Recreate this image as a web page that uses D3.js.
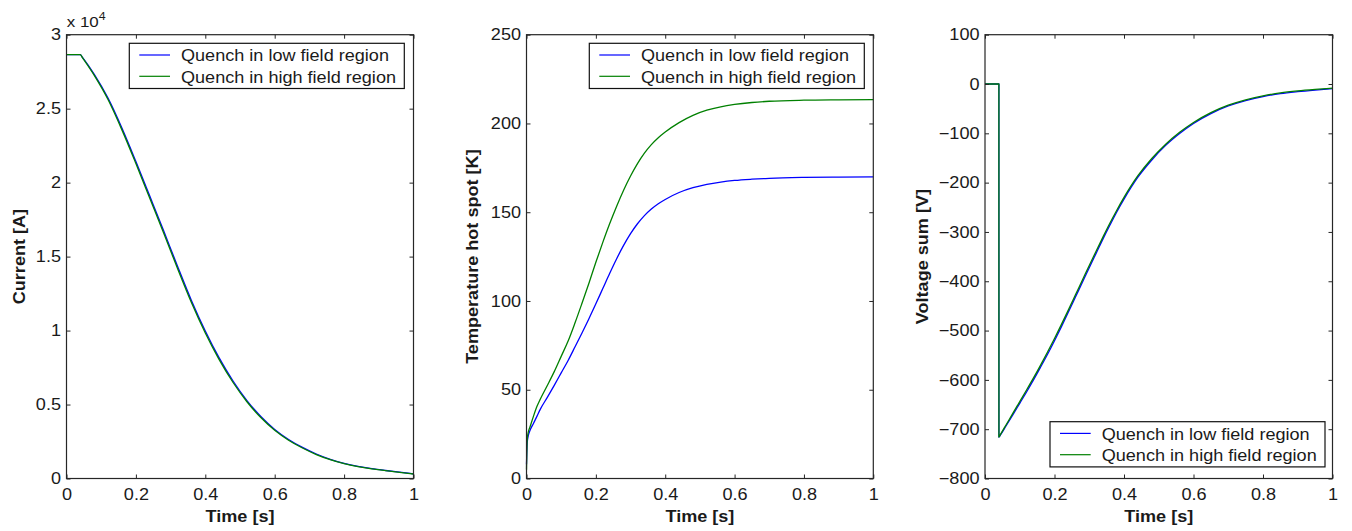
<!DOCTYPE html>
<html>
<head>
<meta charset="utf-8">
<script src="https://cdn.jsdelivr.net/npm/d3@7"></script>
<style>
  html, body { margin: 0; padding: 0; background: #fff; }
  svg { display: block; font-family: "Liberation Sans", Arial, Helvetica, sans-serif; }
</style>
</head>
<body>
<svg id="chart" width="1352" height="531"></svg>
<script>
// ---------------- data ----------------
const seriesNames = ["Quench in low field region", "Quench in high field region"];
const seriesColors = ["#0000ff", "#008000"];

const timeCurrent = [0, 0.04, 0.045, 0.08, 0.12, 0.16, 0.20, 0.24, 0.28, 0.32, 0.36, 0.40, 0.44, 0.48, 0.52, 0.56, 0.60, 0.64, 0.68, 0.72, 0.76, 0.80, 0.84, 0.88, 0.92, 0.96, 1.0];
const currentLow  = [28650, 28650, 28500, 27320, 25700, 23680, 21430, 19090, 16740, 14350, 12040, 9970, 8150, 6590, 5270, 4190, 3320, 2640, 2100, 1655, 1300, 1025, 820, 665, 540, 425, 315];
const currentHigh = [28650, 28650, 28480, 27250, 25600, 23550, 21290, 18940, 16590, 14200, 11900, 9840, 8040, 6490, 5190, 4120, 3260, 2590, 2060, 1620, 1270, 1000, 800, 650, 530, 415, 305];

const timeTemp = [0, 0.002, 0.005, 0.01, 0.02, 0.03, 0.04, 0.06, 0.08, 0.10, 0.12, 0.14, 0.16, 0.18, 0.20, 0.22, 0.24, 0.26, 0.28, 0.30, 0.32, 0.34, 0.36, 0.38, 0.40, 0.44, 0.48, 0.52, 0.56, 0.60, 0.65, 0.70, 0.80, 0.90, 1.0];
const tempLow  = [8, 20, 24, 27, 31, 35, 39.1, 45.7, 52.5, 59.5, 66.5, 74.2, 82.0, 90.0, 98.4, 107.0, 115.6, 123.8, 131.3, 137.9, 143.5, 148.1, 151.8, 154.8, 157.2, 161.1, 163.8, 165.7, 167.0, 167.9, 168.6, 169.1, 169.6, 169.8, 169.9];
const tempHigh = [5, 22, 26, 29, 35, 40.5, 44.8, 52.4, 60.2, 68.8, 77.4, 87.7, 98.7, 110.0, 121.8, 133.0, 143.6, 153.4, 162.4, 170.4, 177.4, 183.3, 188.1, 192.0, 195.2, 200.5, 204.6, 207.5, 209.4, 210.7, 211.8, 212.5, 213.1, 213.3, 213.4];

const timeVolt = [0, 0.04, 0.0401, 0.045, 0.06, 0.08, 0.10, 0.12, 0.14, 0.16, 0.18, 0.20, 0.22, 0.24, 0.26, 0.28, 0.30, 0.32, 0.34, 0.36, 0.38, 0.40, 0.44, 0.48, 0.52, 0.56, 0.60, 0.65, 0.70, 0.75, 0.80, 0.85, 0.90, 0.95, 1.0];
const voltLow  = [0, 0, -716, -711, -694, -671, -647.5, -624, -599.5, -574, -548, -520.5, -492, -462.5, -432.5, -402.5, -372.5, -343, -313.5, -285.5, -258.5, -233.5, -189, -154, -124.5, -100.5, -80, -60, -44.5, -33.5, -25.5, -19.5, -15.5, -12.3, -9.5];
const voltHigh = [0, 0, -716, -710, -692, -668, -644, -620, -595.5, -570, -543.5, -516, -487.5, -458, -428, -398, -368, -338.5, -309.5, -281.5, -255, -230, -186, -151, -122, -98, -78, -58, -43, -32, -24, -18, -14, -11, -8.5];

const timeTicks = [0, 0.2, 0.4, 0.6, 0.8, 1];
const timeTickLabels = ["0", "0.2", "0.4", "0.6", "0.8", "1"];
const currentTicks = [0, 5000, 10000, 15000, 20000, 25000, 30000];
const currentTickLabels = ["0", "0.5", "1", "1.5", "2", "2.5", "3"];
const tempTicks = [0, 50, 100, 150, 200, 250];
const tempTickLabels = ["0", "50", "100", "150", "200", "250"];
const voltTicks = [100, 0, -100, -200, -300, -400, -500, -600, -700, -800];
const voltTickLabels = ["100", "0", "\u2212100", "\u2212200", "\u2212300", "\u2212400", "\u2212500", "\u2212600", "\u2212700", "\u2212800"];

const xLabel = "Time [s]";
const yLabels = ["Current [A]", "Temperature hot spot [K]", "Voltage sum [V]"];
const exponentLabel = ["x 10", "4"];

// ---------------- layout ----------------
const SX = 1.13;          // horizontal stretch of the type
const FS = 16;
const plotTop = 34.7, plotBottom = 478.5;
const panels = [
  { x0: 66.5, x1: 413.5, t: timeCurrent, low: currentLow, high: currentHigh, domain: [0, 30000],
    ticks: currentTicks, tickLabels: currentTickLabels, yLabel: yLabels[0], yLabelX: 24.5,
    legend: { x: 129.3, y: 43.3 } },
  { x0: 526.5, x1: 873.3, t: timeTemp, low: tempLow, high: tempHigh, domain: [0, 250],
    ticks: tempTicks, tickLabels: tempTickLabels, yLabel: yLabels[1], yLabelX: 478,
    legend: { x: 589.3, y: 43.3 } },
  { x0: 985, x1: 1332.5, t: timeVolt, low: voltLow, high: voltHigh, domain: [-800, 100],
    ticks: voltTicks, tickLabels: voltTickLabels, yLabel: yLabels[2], yLabelX: 927.5,
    legend: { x: 1050, y: 421.7 } }
];

const svg = d3.select("#chart");
const axisColor = "#262626";
const textColor = "#1a1a1a";

function stretchTicks(g) {
  g.selectAll(".tick text").each(function () {
    const t = d3.select(this);
    const x = +t.attr("x") || 0;
    t.attr("x", x / SX).attr("transform", `scale(${SX},1)`);
  });
}

panels.forEach((p) => {
  const x = d3.scaleLinear().domain([0, 1]).range([p.x0, p.x1]);
  const y = d3.scaleLinear().domain(p.domain).range([plotBottom, plotTop]);
  const g = svg.append("g");

  // curves
  const line = d3.line().x((d) => x(d[0])).y((d) => y(d[1])).curve(d3.curveMonotoneX);
  [p.low, p.high].forEach((vals, k) => {
    g.append("path")
      .datum(p.t.map((tt, j) => [tt, vals[j]]))
      .attr("fill", "none")
      .attr("stroke", seriesColors[k])
      .attr("stroke-width", 1.3)
      .attr("stroke-linejoin", "round")
      .attr("d", line);
  });

  // axes
  const fmtX = (d) => timeTickLabels[timeTicks.indexOf(d)];
  const fmtY = (d) => p.tickLabels[p.ticks.indexOf(d)];

  const gx = g.append("g").attr("transform", `translate(0,${plotBottom})`)
    .call(d3.axisBottom(x).tickValues(timeTicks).tickFormat(fmtX).tickSizeInner(-4).tickSizeOuter(0).tickPadding(6));
  gx.selectAll(".tick text").attr("y", 22).attr("dy", 0);

  const gy = g.append("g").attr("transform", `translate(${p.x0},0)`)
    .call(d3.axisLeft(y).tickValues(p.ticks).tickFormat(fmtY).tickSizeInner(-4).tickSizeOuter(0).tickPadding(5.5));
  stretchTicks(gy);

  const gt = g.append("g").attr("transform", `translate(0,${plotTop})`)
    .call(d3.axisTop(x).tickValues(timeTicks).tickFormat("").tickSizeInner(-4).tickSizeOuter(0));
  const gr = g.append("g").attr("transform", `translate(${p.x1},0)`)
    .call(d3.axisRight(y).tickValues(p.ticks).tickFormat("").tickSizeInner(-4).tickSizeOuter(0));

  [gx, gy, gt, gr].forEach((a) => {
    a.select(".domain").remove();
    a.selectAll(".tick line").attr("stroke", axisColor).attr("stroke-width", 1);
    a.selectAll(".tick text").attr("fill", textColor).style("font-size", FS + "px")
      .style("font-family", '"Liberation Sans", Arial, Helvetica, sans-serif');
  });
  gx.selectAll(".tick text").each(function () {
    d3.select(this).attr("transform", `scale(${SX},1)`);
  });

  g.append("rect")
    .attr("x", p.x0).attr("y", plotTop)
    .attr("width", p.x1 - p.x0).attr("height", plotBottom - plotTop)
    .attr("fill", "none").attr("stroke", axisColor).attr("stroke-width", 1.2);

  // x label
  g.append("text")
    .attr("transform", `translate(${(p.x0 + p.x1) / 2},521.5) scale(${SX},1)`)
    .attr("text-anchor", "middle")
    .attr("font-weight", "bold").attr("font-size", FS).attr("fill", textColor)
    .text(xLabel);

  // y label
  g.append("text")
    .attr("transform", `translate(${p.yLabelX},${(plotTop + plotBottom) / 2}) rotate(-90) scale(${SX},1)`)
    .attr("text-anchor", "middle")
    .attr("font-weight", "bold").attr("font-size", FS).attr("fill", textColor)
    .text(p.yLabel);

  // legend
  const L = p.legend;
  const lg = g.append("g").attr("transform", `translate(${L.x},${L.y})`);
  lg.append("rect").attr("width", 275).attr("height", 45.2)
    .attr("fill", "#fff").attr("stroke", "#111").attr("stroke-width", 1.2);
  seriesNames.forEach((name, k) => {
    const ly = 11.7 + k * 21.3;
    lg.append("line").attr("x1", 10).attr("x2", 40.7).attr("y1", ly).attr("y2", ly)
      .attr("stroke", seriesColors[k]).attr("stroke-width", 1.2);
    lg.append("text")
      .attr("transform", `translate(51.7,${ly + 6.3}) scale(${SX},1)`)
      .attr("font-size", FS).attr("fill", textColor)
      .text(name);
  });
});

// exponent label for the current axis
const ex = svg.append("text")
  .attr("transform", `translate(66.7,27) scale(${SX},1)`)
  .attr("font-size", FS - 1).attr("fill", textColor);
ex.append("tspan").text(exponentLabel[0]);
ex.append("tspan").attr("font-size", 11).attr("dy", -7).text(exponentLabel[1]);
</script>
</body>
</html>
